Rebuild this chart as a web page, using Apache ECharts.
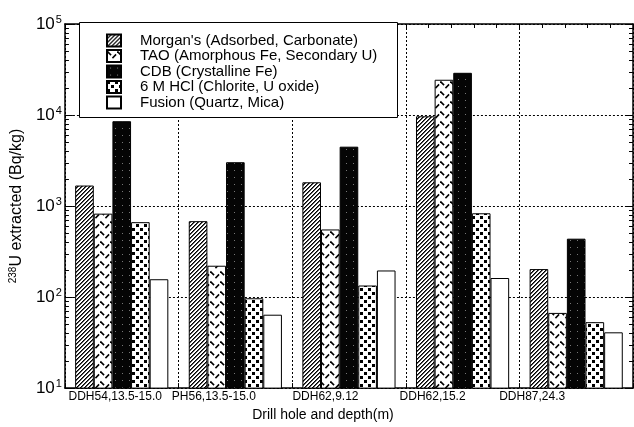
<!DOCTYPE html>
<html>
<head>
<meta charset="utf-8">
<script src="https://cdn.jsdelivr.net/npm/echarts@6/dist/echarts.min.js"></script>
<style>html,body{margin:0;padding:0;background:#fff;}#c{width:634px;height:427px;}</style>
</head>
<body>
<div id="c"></div>
<script>
const categories = ['DDH54,13.5-15.0', 'PH56,13.5-15.0', 'DDH62,9.12', 'DDH62,15.2', 'DDH87,24.3'];
const seriesNames = ["Morgan's (Adsorbed, Carbonate)", 'TAO (Amorphous Fe, Secondary U)', 'CDB (Crystalline Fe)', '6 M HCl (Chlorite, U oxide)', 'Fusion (Quartz, Mica)'];
const morgans = [1680, 682, 1823, 9680, 203];
const tao = [825, 221, 553, 24400, 67];
const cdb = [8550, 3030, 4490, 29100, 438];
const hcl = [665, 97, 134, 833, 53];
const fusion = [157, 64, 196, 162, 41];
const yTickExponents = [1, 2, 3, 4, 5];
const minorTickMantissas = [2, 3, 4, 5, 6, 7, 8, 9];
const minorTickDecades = [10, 100, 1000, 10000];
const xAxisTitle = 'Drill hole and depth(m)';
const yAxisTitle = 'U extracted (Bq/kg)';
const yAxisTitleSup = '238';

function tile(w, h, draw) {
  const c = document.createElement('canvas');
  c.width = w; c.height = h;
  const g = c.getContext('2d');
  g.fillStyle = '#fff'; g.fillRect(0, 0, w, h);
  draw(g);
  return { image: c, repeat: 'repeat' };
}
const patHatch = tile(4, 4, g => {
  g.fillStyle = '#000';
  g.fillRect(0, 3, 1, 1); g.fillRect(1, 2, 1, 1); g.fillRect(2, 1, 1, 1); g.fillRect(3, 0, 1, 1);
  g.fillStyle = '#555';
  g.fillRect(1, 3, 1, 1); g.fillRect(2, 2, 1, 1); g.fillRect(3, 1, 1, 1); g.fillRect(0, 0, 1, 1);
});
const patCheck = tile(10, 10, g => {
  g.strokeStyle = '#000'; g.lineWidth = 1.6; g.lineCap = 'square';
  g.beginPath(); g.moveTo(1, 2); g.lineTo(3.5, 4.5); g.stroke();
  g.beginPath(); g.moveTo(6, 7.5); g.lineTo(8.5, 5); g.stroke();
});
const patBlack = tile(7, 7, g => {
  g.fillStyle = '#050505'; g.fillRect(0, 0, 7, 7);
  g.fillStyle = '#777'; g.fillRect(3, 2, 1, 1);
});
const patDots = tile(8, 8, g => {
  g.fillStyle = '#000';
  g.fillRect(0, 0, 3, 3); g.fillRect(4, 4, 3, 3);
});
const fills = [patHatch, patCheck, patBlack, patDots, '#fff'];
const values = [morgans, tao, cdb, hcl, fusion];

const minorTickValues = [];
minorTickDecades.forEach(d => minorTickMantissas.forEach(m => minorTickValues.push([0, m * d])));

const labelShift = [13, 43, 47, 60, 88];
const rich = {};
labelShift.forEach((p, i) => {
  rich['l' + i] = { fontFamily: 'Liberation Sans', fontSize: 12, color: '#000', padding: [0, p, 0, 0] };
});

const chart = echarts.init(document.getElementById('c'), null, { renderer: 'canvas' });
const font = 'Liberation Sans';
const barSeries = seriesNames.map((name, i) => ({
  name: name, type: 'bar', xAxisIndex: 0, yAxisIndex: 0,
  data: values[i],
  barGap: '0%', barCategoryGap: '18%',
  itemStyle: { color: fills[i], borderColor: '#000', borderWidth: 1 }
}));
barSeries.push({
  type: 'custom', name: 'minorTicks', xAxisIndex: 0, yAxisIndex: 0, silent: true, z: 5,
  data: minorTickValues,
  renderItem: (params, api) => {
    const cs = params.coordSys;
    const y = Math.round(api.coord([0, api.value(1)])[1]) + 0.5;
    const st = { stroke: '#000', lineWidth: 1 };
    return {
      type: 'group', children: [
        { type: 'line', shape: { x1: cs.x, y1: y, x2: cs.x + 4, y2: y }, style: st },
        { type: 'line', shape: { x1: cs.x + cs.width - 4, y1: y, x2: cs.x + cs.width, y2: y }, style: st }
      ]
    };
  }
});

chart.setOption({
  animation: false,
  backgroundColor: '#fff',
  grid: { left: 62, right: 1, top: 24, bottom: 35 },
  legend: {
    orient: 'vertical', left: 106, top: 33, padding: 0,
    itemWidth: 14, itemHeight: 12, itemGap: 0.5,
    icon: 'rect',
    textStyle: { fontFamily: font, fontSize: 15, color: '#000', lineHeight: 13, padding: [0, 0, 0, 14] },
    data: seriesNames
  },
  graphic: [{
    type: 'rect', z: 3,
    shape: { x: 79.5, y: 22.5, width: 318, height: 95 },
    style: { fill: '#fff', stroke: '#000', lineWidth: 1 }
  }],
  xAxis: [{
    type: 'category', data: categories, position: 'bottom',
    axisLine: { lineStyle: { color: '#000', width: 1.5 } },
    axisTick: { show: true, inside: true, length: 5, lineStyle: { color: '#000' } },
    axisLabel: {
      margin: 3, interval: 0,
      formatter: (v, i) => '{l' + i + '|' + v + '}',
      rich: rich
    },
    splitLine: { show: true, lineStyle: { color: '#000', type: [2, 2], width: 1 } },
    name: xAxisTitle, nameLocation: 'middle', nameGap: 16,
    nameTextStyle: { fontFamily: font, fontSize: 14, color: '#000', padding: [0, 52, 0, 0] }
  }, {
    type: 'category', data: new Array(25).fill(''), position: 'top',
    axisLine: { lineStyle: { color: '#000', width: 1.5 } },
    axisTick: { show: true, inside: true, length: 4, lineStyle: { color: '#000' } },
    axisLabel: { show: false }, splitLine: { show: false }
  }],
  yAxis: [{
    type: 'log', logBase: 10, min: 10, max: 100000, position: 'left',
    axisLine: { show: true, lineStyle: { color: '#000', width: 1.5 } },
    axisTick: { show: true, inside: true, length: 8, lineStyle: { color: '#000' } },
    axisLabel: {
      margin: 3,
      formatter: v => {
        const e = Math.round(Math.log10(v));
        return yTickExponents.indexOf(e) >= 0 ? '{b|10}{s|' + e + '}' : '';
      },
      rich: {
        b: { fontFamily: font, fontSize: 17, color: '#000' },
        s: { fontFamily: font, fontSize: 11, color: '#000', padding: [0, 0, 9, 1] }
      }
    },
    splitLine: { show: true, lineStyle: { color: '#000', type: [2, 2], width: 1 } },
    name: '{s|' + yAxisTitleSup + '}{n|' + yAxisTitle + '}',
    nameLocation: 'middle', nameGap: 34,
    nameTextStyle: {
      rich: {
        n: { fontFamily: font, fontSize: 16, color: '#000' },
        s: { fontFamily: font, fontSize: 10, color: '#000', padding: [0, 0, 8, 0] }
      }
    }
  }, {
    type: 'log', logBase: 10, min: 10, max: 100000, position: 'right',
    axisLine: { show: true, lineStyle: { color: '#000', width: 1.5 } },
    axisTick: { show: true, inside: true, length: 8, lineStyle: { color: '#000' } },
    axisLabel: { show: false }, splitLine: { show: false }
  }],
  series: barSeries
});
</script>
</body>
</html>
